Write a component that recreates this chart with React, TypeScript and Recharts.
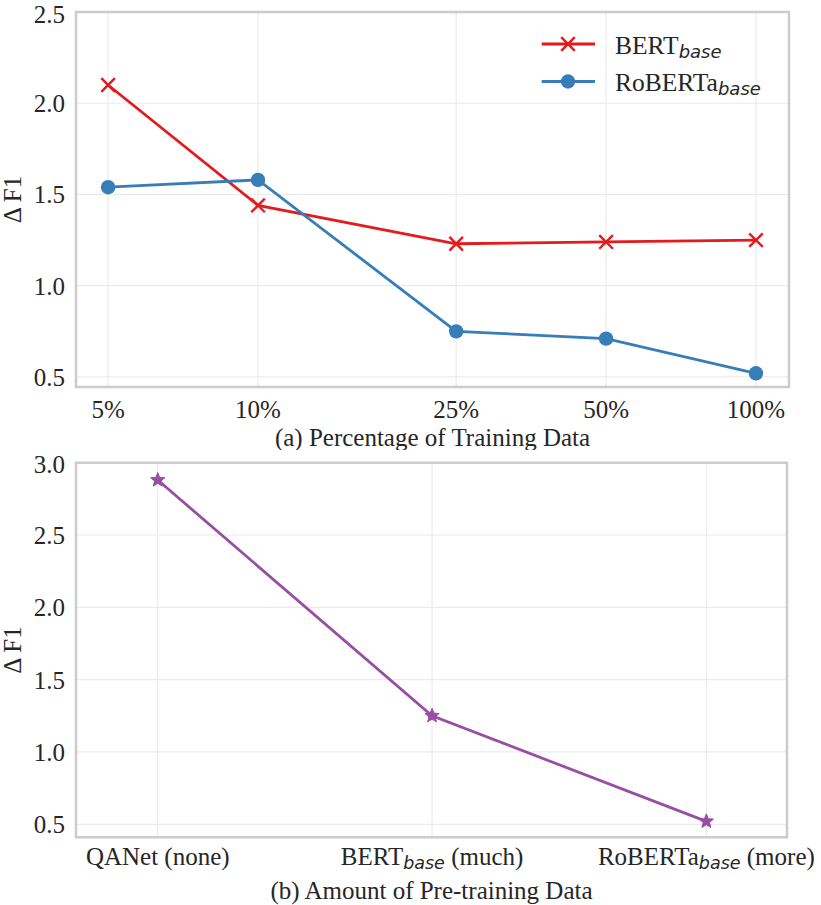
import {
  LineChart,
  Line,
  XAxis,
  YAxis,
  CartesianGrid,
  ReferenceArea,
  Legend,
} from "recharts";

const FONT = '"Liberation Serif", "Times New Roman", serif';
const SUB_FONT = '"DejaVu Sans", sans-serif';
const INK = "#262626";
const RED = "#e41a1c";
const BLUE = "#377eb8";
const PURPLE = "#984ea3";

// (a) percentage of training data (log-spaced x)
const trainPct = [5, 10, 25, 50, 100];
const bertDelta = [2.1, 1.44, 1.23, 1.24, 1.25];
const robertaDelta = [1.54, 1.58, 0.75, 0.71, 0.52];
const yTicksA = [0.5, 1.0, 1.5, 2.0, 2.5];
const xDomainA = [4.31, 116.5];
const yDomainA = [0.445, 2.5];

// (b) amount of pre-training data
const pretrainModel = ["QANet", "BERT", "RoBERTa"];
const pretrainSub = ["", "base", "base"];
const pretrainAmount = ["none", "much", "more"];
const pretrainDelta = [2.88, 1.25, 0.52];
const yTicksB = [0.5, 1.0, 1.5, 2.0, 2.5, 3.0];
const xDomainB = [-0.298, 2.294];
const yDomainB = [0.41, 3.0];

const dataA = trainPct.map((p, i) => ({
  pct: p,
  bert: bertDelta[i],
  roberta: robertaDelta[i],
}));
const dataB = pretrainDelta.map((d, i) => ({ idx: i, delta: d }));

const legendRows = [
  { main: "BERT", color: RED, marker: "x" },
  { main: "RoBERTa", color: BLUE, marker: "o" },
];

const tickStyle = { fill: INK, fontSize: 25, fontFamily: FONT };
const labelStyle = { fill: INK, fontSize: 25, fontFamily: FONT };

function crossPath(cx: number, cy: number, s: number) {
  return `M${cx - s},${cy - s}L${cx + s},${cy + s}M${cx - s},${cy + s}L${cx + s},${cy - s}`;
}

function starPath(cx: number, cy: number, R: number, r: number) {
  let d = "";
  for (let k = 0; k < 10; k++) {
    const rad = k % 2 === 0 ? R : r;
    const a = -Math.PI / 2 + (k * Math.PI) / 5;
    d += (k ? "L" : "M") + (cx + rad * Math.cos(a)) + "," + (cy + rad * Math.sin(a));
  }
  return d + "Z";
}

function LegendBox() {
  return (
    <svg width={240} height={80} style={{ overflow: "visible" }}>
      {legendRows.map((r, i) => {
        const y = 20 + i * 37.5;
        return (
          <g key={r.main}>
            <line x1={6.7} x2={60} y1={y} y2={y} stroke={r.color} strokeWidth={2.8} />
            {r.marker === "x" ? (
              <path d={crossPath(33, y, 6.8)} stroke={r.color} strokeWidth={2.4} fill="none" />
            ) : (
              <circle cx={33} cy={y} r={7.2} fill={r.color} />
            )}
            <text x={80} y={y + 9.5} fill={INK} fontSize={25.5} fontFamily={FONT}>
              {r.main}
              <tspan dy={4} fontFamily={SUB_FONT} fontStyle="italic" fontSize={18}>
                base
              </tspan>
            </text>
          </g>
        );
      })}
    </svg>
  );
}

function PretrainTick(props: any) {
  const { x, y, payload } = props;
  const i = payload.value as number;
  return (
    <text x={x} y={y} dy="0.71em" textAnchor="middle" {...tickStyle}>
      {pretrainModel[i]}
      {pretrainSub[i] ? (
        <tspan dy={4} fontFamily={SUB_FONT} fontStyle="italic" fontSize={17.5}>
          {pretrainSub[i]}
        </tspan>
      ) : null}
      <tspan dy={pretrainSub[i] ? -4 : 0}>{` (${pretrainAmount[i]})`}</tspan>
    </text>
  );
}

export default function App() {
  return (
    <div style={{ position: "absolute", left: 0, top: 0, width: 821, height: 905, background: "#fff", fontFamily: FONT }}>
      <div style={{ position: "absolute", left: 0, top: 0 }}>
        <LineChart width={821} height={450} data={dataA} margin={{ top: 12, right: 32, bottom: 0, left: 0 }}>
          <CartesianGrid stroke="#ebebeb" strokeWidth={1.2} />
          <XAxis
            dataKey="pct"
            type="number"
            scale="log"
            domain={xDomainA}
            ticks={trainPct}
            allowDataOverflow
            tickFormatter={(v: number) => `${v}%`}
            tickLine={false}
            axisLine={false}
            tickMargin={7}
            height={63}
            tick={tickStyle}
            label={{ value: "(a) Percentage of Training Data", position: "insideBottom", offset: 4.5, style: labelStyle }}
          />
          <YAxis
            type="number"
            domain={yDomainA}
            ticks={yTicksA}
            allowDataOverflow
            tickFormatter={(v: number) => v.toFixed(1)}
            tickLine={false}
            axisLine={false}
            tickMargin={5}
            width={76}
            tick={tickStyle}
            label={{ value: "Δ F1", angle: -90, position: "insideLeft", offset: 12, style: { ...labelStyle, textAnchor: "middle" } }}
          />
          <ReferenceArea
            x1={xDomainA[0]}
            x2={xDomainA[1]}
            y1={yDomainA[0]}
            y2={yDomainA[1]}
            fill="none"
            stroke="#cccccc"
            strokeWidth={2.5}
            ifOverflow="visible"
          />
          <Legend
            content={() => <LegendBox />}
            layout="horizontal"
            verticalAlign="middle"
            align="center"
            wrapperStyle={{ left: 535, top: 24, width: 240, height: 80 }}
          />
          <Line
            dataKey="bert"
            name="BERT"
            stroke={RED}
            strokeWidth={2.8}
            isAnimationActive={false}
            dot={(p: any) => (
              <path key={`b${p.index}`} d={crossPath(p.cx, p.cy, 6.8)} stroke={RED} strokeWidth={2.4} fill="none" />
            )}
          />
          <Line
            dataKey="roberta"
            name="RoBERTa"
            stroke={BLUE}
            strokeWidth={2.8}
            isAnimationActive={false}
            dot={(p: any) => <circle key={`r${p.index}`} cx={p.cx} cy={p.cy} r={7.2} fill={BLUE} />}
          />
        </LineChart>
      </div>
      <div style={{ position: "absolute", left: 0, top: 450 }}>
        <LineChart width={821} height={455} data={dataB} margin={{ top: 12.7, right: 34, bottom: 0, left: 0 }}>
          <CartesianGrid stroke="#ebebeb" strokeWidth={1.2} />
          <XAxis
            dataKey="idx"
            type="number"
            domain={xDomainB}
            ticks={[0, 1, 2]}
            allowDataOverflow
            tickLine={false}
            axisLine={false}
            tickMargin={4}
            height={67.7}
            tick={<PretrainTick />}
            label={{ value: "(b) Amount of Pre-training Data", position: "insideBottom", offset: 6, style: labelStyle }}
          />
          <YAxis
            type="number"
            domain={yDomainB}
            ticks={yTicksB}
            allowDataOverflow
            tickFormatter={(v: number) => v.toFixed(1)}
            tickLine={false}
            axisLine={false}
            tickMargin={5}
            width={76}
            tick={tickStyle}
            label={{ value: "Δ F1", angle: -90, position: "insideLeft", offset: 12, style: { ...labelStyle, textAnchor: "middle" } }}
          />
          <ReferenceArea
            x1={xDomainB[0]}
            x2={xDomainB[1]}
            y1={yDomainB[0]}
            y2={yDomainB[1]}
            fill="none"
            stroke="#cccccc"
            strokeWidth={2.5}
            ifOverflow="visible"
          />
          <Line
            dataKey="delta"
            stroke={PURPLE}
            strokeWidth={2.8}
            isAnimationActive={false}
            dot={(p: any) => <path key={`s${p.index}`} d={starPath(p.cx, p.cy, 7.5, 3.3)} fill={PURPLE} stroke={PURPLE} strokeWidth={1} />}
          />
        </LineChart>
      </div>
    </div>
  );
}
